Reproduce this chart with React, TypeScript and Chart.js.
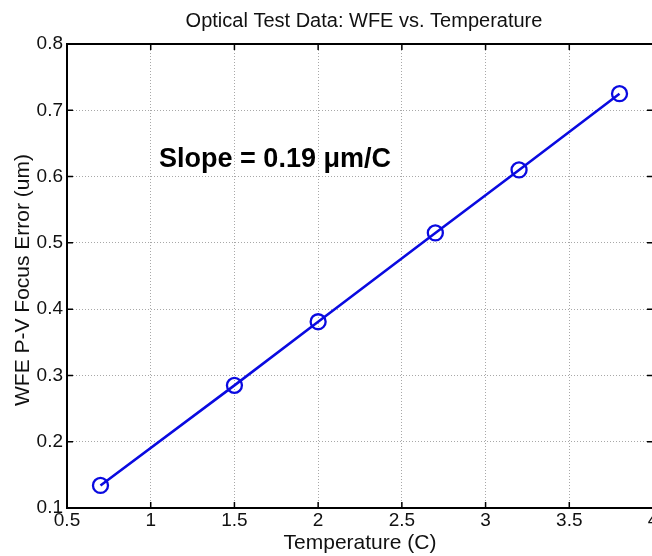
import React, { useEffect, useRef } from "react";
import { Chart, registerables } from "chart.js";

Chart.register(...registerables);

const titleText = "Optical Test Data: WFE vs. Temperature";
const xTitle = "Temperature (C)";
const yTitle = "WFE P-V Focus Error (um)";
const annotationText = "Slope = 0.19 \u03bcm/C";

const temperatures = [0.7, 1.5, 2.0, 2.7, 3.2, 3.8];
const wfe = [0.134, 0.285, 0.381, 0.515, 0.610, 0.725];

const xTicks = [0.5, 1, 1.5, 2, 2.5, 3, 3.5, 4];
const yTicks = [0.1, 0.2, 0.3, 0.4, 0.5, 0.6, 0.7, 0.8];

const annotationPos = { x: 1.05, y: 0.625 };

const FONT = "'Liberation Sans', Arial, Helvetica, sans-serif";

export default function App() {
  const ref = useRef<HTMLCanvasElement | null>(null);

  useEffect(() => {
    if (!ref.current) return;

    const framePlugin = {
      id: "frame",
      afterDraw(chart: any) {
        const { ctx, chartArea: a, scales } = chart;
        const xs = scales.x;
        const ys = scales.y;
        ctx.save();
        // box
        ctx.strokeStyle = "#000";
        ctx.lineWidth = 2;
        ctx.strokeRect(a.left, a.top, a.right - a.left, a.bottom - a.top);
        // inward ticks
        const tl = 6;
        ctx.lineWidth = 1.5;
        ctx.beginPath();
        xTicks.forEach((v) => {
          const px = xs.getPixelForValue(v);
          ctx.moveTo(px, a.bottom);
          ctx.lineTo(px, a.bottom - tl);
          ctx.moveTo(px, a.top);
          ctx.lineTo(px, a.top + tl);
        });
        yTicks.forEach((v) => {
          const py = ys.getPixelForValue(v);
          ctx.moveTo(a.left, py);
          ctx.lineTo(a.left + tl, py);
          ctx.moveTo(a.right, py);
          ctx.lineTo(a.right - tl, py);
        });
        ctx.stroke();
        // title
        ctx.fillStyle = "#111";
        ctx.font = `20px ${FONT}`;
        ctx.textAlign = "center";
        ctx.textBaseline = "middle";
        ctx.fillText(titleText, (a.left + a.right) / 2 + 4, 21);
        // y axis title
        ctx.save();
        ctx.translate(23, (a.top + a.bottom) / 2 + 4);
        ctx.rotate(-Math.PI / 2);
        ctx.font = `21px ${FONT}`;
        ctx.fillText(yTitle, 0, 0);
        ctx.restore();
        // annotation
        ctx.font = `bold 27px ${FONT}`;
        ctx.textAlign = "left";
        ctx.fillStyle = "#000";
        ctx.fillText(
          annotationText,
          xs.getPixelForValue(annotationPos.x),
          ys.getPixelForValue(annotationPos.y)
        );
        ctx.restore();
      },
    };

    const chart = new Chart(ref.current, {
      type: "line",
      data: {
        datasets: [
          {
            data: temperatures.map((t, i) => ({ x: t, y: wfe[i] })),
            borderColor: "#0a0ae0",
            borderWidth: 2.6,
            pointRadius: 7.5,
            pointBorderWidth: 2.3,
            pointBackgroundColor: "rgba(0,0,0,0)",
            pointBorderColor: "#0a0ae0",
            pointStyle: "circle",
            fill: false,
            tension: 0,
          },
        ],
      },
      options: {
        responsive: false,
        animation: false,
        layout: { padding: { top: 44, right: 27, left: 0, bottom: 0 } },
        plugins: {
          legend: { display: false },
          tooltip: { enabled: false },
          title: { display: false },
        },
        scales: {
          x: {
            type: "linear",
            min: 0.5,
            max: 4,
            afterBuildTicks: (s: any) => {
              s.ticks = xTicks.map((v) => ({ value: v }));
            },
            afterFit: (s: any) => {
              s.height = 48;
            },
            ticks: {
              color: "#111",
              font: { family: FONT, size: 19 },
              padding: 1,
              maxRotation: 0,
              autoSkip: false,
              callback: (v: any) => String(Number(Number(v).toFixed(1))),
            },
            grid: {
              color: "#a8a8a8",
              lineWidth: 1,
              drawTicks: false,
            },
            border: { display: false, dash: [1, 2] },
            title: {
              display: true,
              text: xTitle,
              color: "#111",
              font: { family: FONT, size: 21 },
              padding: { top: 0, bottom: 0 },
            },
          },
          y: {
            type: "linear",
            min: 0.1,
            max: 0.8,
            afterBuildTicks: (s: any) => {
              s.ticks = yTicks.map((v) => ({ value: v }));
            },
            afterFit: (s: any) => {
              s.width = 67;
            },
            ticks: {
              color: "#111",
              font: { family: FONT, size: 19 },
              padding: 4,
              autoSkip: false,
              callback: (v: any) => String(Number(Number(v).toFixed(1))),
            },
            grid: {
              color: "#a8a8a8",
              lineWidth: 1,
              drawTicks: false,
            },
            border: { display: false, dash: [1, 2] },
            title: { display: false },
          },
        },
      },
      plugins: [framePlugin],
    });

    return () => chart.destroy();
  }, []);

  return (
    <div
      style={{
        position: "fixed",
        left: 0,
        top: 0,
        width: 652,
        height: 556,
        overflow: "hidden",
        background: "#fff",
      }}
    >
      <canvas ref={ref} width={680} height={556} style={{ display: "block" }} />
    </div>
  );
}
